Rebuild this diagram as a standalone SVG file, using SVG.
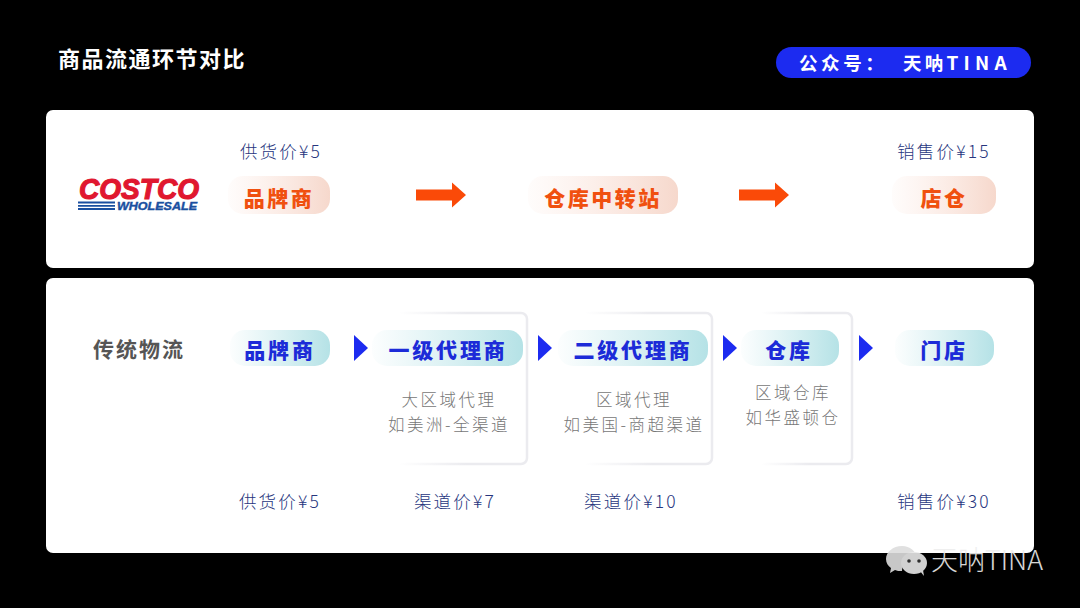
<svg xmlns="http://www.w3.org/2000/svg" width="1080" height="608" viewBox="0 0 1080 608">
<defs>
<linearGradient id="po" x1="0" x2="1" y1="0" y2="0"><stop offset="0" stop-color="#fbe3da" stop-opacity="0.1"/><stop offset="1" stop-color="#f6d8cc"/></linearGradient>
<linearGradient id="pb" x1="0" x2="1" y1="0" y2="0"><stop offset="0" stop-color="#bfe6ea" stop-opacity="0.05"/><stop offset="1" stop-color="#b5e2e6"/></linearGradient>
<linearGradient id="cs" x1="0" x2="1" y1="0" y2="0"><stop offset="0.15" stop-color="#ebebef" stop-opacity="0"/><stop offset="0.6" stop-color="#ebebef"/></linearGradient>
<path id="tri" d="M0 0L14 13L0 26Z" fill="#1c2bf0"/>
<path id="arr" d="M0 7H36V0L50 12.500L36 25V18H0Z" fill="#fa4a08"/>
</defs>
<style>
text{font-family:"Noto Sans CJK SC","Noto Sans",sans-serif}
.o{font-size:21px;font-weight:900;fill:#f0500f;text-anchor:middle;letter-spacing:2.500px}
.b{font-size:21px;font-weight:900;fill:#1c2bd8;text-anchor:middle;letter-spacing:2.800px}
.p{font-size:17.500px;font-weight:300;fill:#27367e;text-anchor:middle;letter-spacing:2.200px}
.g{font-size:16.500px;font-weight:300;fill:#777;text-anchor:middle;letter-spacing:2.500px}
.c{fill:#fff;stroke:url(#cs);stroke-width:2.500}
</style>
<rect width="1080" height="608" fill="#000"/>
<text x="58" y="67" font-size="22" font-weight="700" fill="#fff" letter-spacing="1.500">商品流通环节对比</text>
<g id="badge">
<rect x="776" y="47" width="255" height="31" rx="15.500" fill="#1c2bf0"/>
<text x="799" y="70" font-size="18.500" font-weight="700" fill="#fff" letter-spacing="3.600">公众号：</text>
<text x="903" y="70" font-size="18.500" font-weight="700" fill="#fff" letter-spacing="3.200">天呐<tspan font-size="19" letter-spacing="5.200">TINA</tspan></text>
</g>
<g id="panel-top"><rect x="46" y="110" width="988" height="158" rx="7" fill="#fff"/></g>
<g id="panel-bottom"><rect x="46" y="278" width="988" height="275" rx="7" fill="#fff"/></g>
<g id="costco">
<text x="139" y="199" text-anchor="middle" font-size="30" font-weight="900" font-style="italic" fill="#e0172f" stroke="#e0172f" stroke-width="1.200" style="font-family:'Liberation Sans',sans-serif" textLength="120" lengthAdjust="spacingAndGlyphs">COSTCO</text>
<path d="M78 202.500H115M78 205.800H115M78 209H115" stroke="#1a4fa0" stroke-width="1.800" fill="none"/>
<text x="117" y="210" font-size="11" font-weight="900" font-style="italic" fill="#1a4fa0" stroke="#1a4fa0" stroke-width="0.400" style="font-family:'Liberation Sans',sans-serif" textLength="80" lengthAdjust="spacingAndGlyphs">WHOLESALE</text>
</g>
<g id="top-brand"><text class="p" x="281" y="158">供货价¥5</text><rect x="228" y="176" width="102" height="38" rx="15" fill="url(#po)"/><text class="o" x="279" y="206">品牌商</text></g>
<g id="top-warehouse"><rect x="528" y="176" width="150" height="38" rx="15" fill="url(#po)"/><text class="o" x="603" y="206">仓库中转站</text></g>
<g id="top-store"><text class="p" x="944" y="158">销售价¥15</text><rect x="892" y="176" width="104" height="38" rx="15" fill="url(#po)"/><text class="o" x="944" y="206">店仓</text></g>
<g id="connectors">
<use href="#arr" x="416" y="182.500"/>
<use href="#arr" x="739" y="182.500"/>
<use href="#tri" x="354" y="335"/>
<use href="#tri" x="538" y="335"/>
<use href="#tri" x="723" y="335"/>
<use href="#tri" x="859" y="335"/>
</g>
<text x="139" y="357" text-anchor="middle" font-size="21" font-weight="700" fill="#555" letter-spacing="2">传统物流</text>
<g id="brand"><rect x="230" y="330" width="100" height="36" rx="15" fill="url(#pb)"/><text class="b" x="280" y="358">品牌商</text><text class="p" x="280" y="508">供货价¥5</text></g>
<g id="agent-1"><rect class="c" x="376" y="313" width="151" height="151" rx="6"/><rect x="372" y="330" width="151" height="36" rx="15" fill="url(#pb)"/><text class="b" x="448" y="358">一级代理商</text><text class="g" x="449" y="406">大区域代理</text><text class="g" x="449" y="431">如美洲-全渠道</text><text class="p" x="455" y="508">渠道价¥7</text></g>
<g id="agent-2"><rect class="c" x="562" y="313" width="150" height="151" rx="6"/><rect x="558" y="330" width="150" height="36" rx="15" fill="url(#pb)"/><text class="b" x="633" y="358">二级代理商</text><text class="g" x="634" y="406">区域代理</text><text class="g" x="634" y="431">如美国-商超渠道</text><text class="p" x="631" y="508">渠道价¥10</text></g>
<g id="warehouse"><rect class="c" x="745" y="313" width="107" height="151" rx="6"/><rect x="741" y="330" width="98" height="36" rx="15" fill="url(#pb)"/><text class="b" x="789" y="358">仓库</text><text class="g" x="793" y="399">区域仓库</text><text class="g" x="793" y="424">如华盛顿仓</text></g>
<g id="store"><rect x="895" y="330" width="99" height="36" rx="15" fill="url(#pb)"/><text class="b" x="944" y="358">门店</text><text class="p" x="944" y="508">销售价¥30</text></g>
<g id="watermark" opacity="0.9">
<path d="M902 546c-9 0-16 6-16 13 0 4 2 7 5 9l-1 5 5-3c2 1 4 1 7 1 0-7 6-13 15-13-1-7-7-12-15-12z" fill="#ddd"/>
<ellipse cx="914" cy="563" rx="13" ry="11" fill="#e8e8e8"/>
<path d="M920 571l4 5-1-6z" fill="#e8e8e8"/>
<circle cx="909" cy="561" r="1.800" fill="#333"/><circle cx="919" cy="561" r="1.800" fill="#333"/>
<text x="931" y="570" font-size="27" font-weight="300" fill="#eee">天呐TINA</text>
</g>
</svg>
